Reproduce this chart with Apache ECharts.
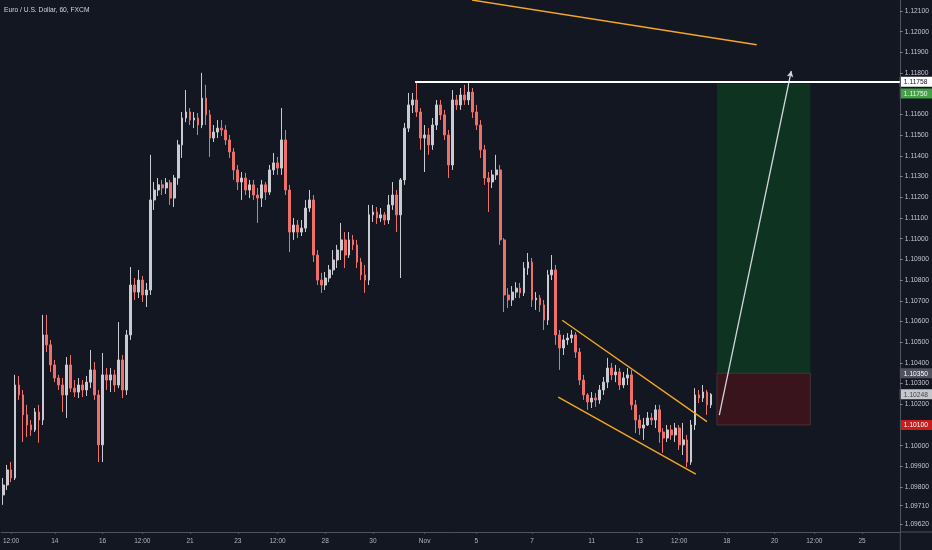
<!DOCTYPE html>
<html><head><meta charset="utf-8">
<script src="https://cdn.jsdelivr.net/npm/echarts@6/dist/echarts.min.js"></script>
<style>html,body{margin:0;padding:0;background:#131722;}#c{width:932px;height:550px;}</style>
</head><body><div id="c"></div>
<script>
// ---- data (EURUSD hourly, one candle per ~4h of screen) ----
const opens = [1.09762,1.09810,1.09883,1.09844,1.10293,1.10245,1.10149,1.10100,1.10076,1.10163,
1.10124,1.10535,1.10487,1.10390,1.10327,1.10293,1.10245,1.10390,1.10278,1.10259,
1.10293,1.10269,1.10307,1.10366,1.10245,1.10004,1.10342,1.10317,1.10342,1.10293,
1.10414,1.10269,1.10535,1.10776,1.10742,1.10800,1.10728,1.10752,1.11187,1.11235,
1.11260,1.11245,1.11270,1.11196,1.11293,1.11453,1.11583,1.11612,1.11573,1.11583,
1.11549,1.11679,1.11598,1.11486,1.11515,1.11534,1.11525,1.11477,1.11419,1.11332,
1.11274,1.11293,1.11235,1.11260,1.11211,1.11196,1.11260,1.11225,1.11332,1.11366,
1.11341,1.11477,1.11235,1.11032,1.11066,1.11032,1.11051,1.11148,1.11187,1.10921,
1.10800,1.10776,1.10810,1.10849,1.10897,1.10945,1.10994,1.10921,1.10994,1.10970,
1.10887,1.10825,1.10800,1.11115,1.11129,1.11100,1.11115,1.11090,1.11163,1.11211,
1.11115,1.11284,1.11534,1.11646,1.11670,1.11612,1.11486,1.11501,1.11453,1.11549,
1.11646,1.11598,1.11501,1.11356,1.11670,1.11646,1.11694,1.11670,1.11708,1.11612,
1.11549,1.11429,1.11293,1.11274,1.11308,1.11332,1.10994,1.10728,1.10704,1.10742,
1.10761,1.10738,1.10858,1.10887,1.10704,1.10713,1.10680,1.10607,1.10825,1.10849,
1.10535,1.10472,1.10511,1.10520,1.10535,1.10452,1.10317,1.10245,1.10211,1.10230,
1.10221,1.10269,1.10307,1.10375,1.10342,1.10356,1.10293,1.10327,1.10342,1.10197,
1.10124,1.10085,1.10100,1.10134,1.10124,1.10173,1.10066,1.10037,1.10076,1.10052,
1.10085,1.10004,1.10028,1.09921,1.10100,1.10245,1.10230,1.10259,1.10197];
const closes = [1.09810,1.09883,1.09844,1.10293,1.10245,1.10149,1.10100,1.10076,1.10163,1.10124,
1.10535,1.10487,1.10390,1.10327,1.10293,1.10245,1.10390,1.10278,1.10259,1.10293,
1.10269,1.10307,1.10366,1.10245,1.10004,1.10342,1.10317,1.10342,1.10293,1.10414,
1.10269,1.10535,1.10776,1.10742,1.10800,1.10728,1.10752,1.11187,1.11235,1.11260,
1.11245,1.11270,1.11196,1.11293,1.11453,1.11583,1.11612,1.11573,1.11583,1.11549,
1.11679,1.11598,1.11486,1.11515,1.11534,1.11525,1.11477,1.11419,1.11332,1.11274,
1.11293,1.11235,1.11260,1.11211,1.11196,1.11260,1.11225,1.11332,1.11366,1.11341,
1.11477,1.11235,1.11032,1.11066,1.11032,1.11051,1.11148,1.11187,1.10921,1.10800,
1.10776,1.10810,1.10849,1.10897,1.10945,1.10994,1.10921,1.10994,1.10970,1.10887,
1.10825,1.10800,1.11115,1.11129,1.11100,1.11115,1.11090,1.11163,1.11211,1.11115,
1.11284,1.11534,1.11646,1.11670,1.11612,1.11486,1.11501,1.11453,1.11549,1.11646,
1.11598,1.11501,1.11356,1.11670,1.11646,1.11694,1.11670,1.11708,1.11612,1.11549,
1.11429,1.11293,1.11274,1.11308,1.11332,1.10994,1.10728,1.10704,1.10742,1.10761,
1.10738,1.10858,1.10887,1.10704,1.10713,1.10680,1.10607,1.10825,1.10849,1.10535,
1.10472,1.10511,1.10520,1.10535,1.10452,1.10317,1.10245,1.10211,1.10230,1.10221,
1.10269,1.10307,1.10375,1.10342,1.10356,1.10293,1.10327,1.10342,1.10197,1.10124,
1.10085,1.10100,1.10134,1.10124,1.10173,1.10066,1.10037,1.10076,1.10052,1.10085,
1.10004,1.10028,1.09921,1.10100,1.10245,1.10230,1.10259,1.10197,1.10248];
const lows = [1.09714,1.09786,1.09824,1.09834,1.10221,1.10018,1.10042,1.10047,1.10066,1.10014,
1.10100,1.10452,1.10356,1.10307,1.10269,1.10163,1.10134,1.10259,1.10235,1.10230,
1.10235,1.10240,1.10278,1.10221,1.09921,1.09921,1.10269,1.10259,1.10259,1.10278,
1.10230,1.10245,1.10511,1.10704,1.10713,1.10694,1.10670,1.10728,1.11139,1.11206,
1.11211,1.11216,1.11163,1.11153,1.11260,1.11390,1.11563,1.11549,1.11534,1.11501,
1.11534,1.11549,1.11395,1.11467,1.11486,1.11496,1.11453,1.11390,1.11284,1.11235,
1.11187,1.11211,1.11196,1.11187,1.11076,1.11153,1.11187,1.11211,1.11308,1.11308,
1.11308,1.11211,1.10935,1.10994,1.11003,1.11013,1.11032,1.11129,1.10887,1.10776,
1.10738,1.10752,1.10790,1.10825,1.10858,1.10897,1.10858,1.10907,1.10945,1.10858,
1.10800,1.10738,1.10776,1.11081,1.11071,1.11081,1.11066,1.11071,1.11139,1.11032,
1.10810,1.11260,1.11515,1.11607,1.11588,1.11429,1.11322,1.11405,1.11429,1.11525,
1.11573,1.11477,1.11293,1.11332,1.11622,1.11622,1.11646,1.11646,1.11583,1.11525,
1.11390,1.11260,1.11129,1.11245,1.11284,1.10970,1.10646,1.10665,1.10675,1.10713,
1.10713,1.10723,1.10825,1.10670,1.10656,1.10646,1.10559,1.10583,1.10800,1.10487,
1.10366,1.10438,1.10487,1.10496,1.10424,1.10293,1.10221,1.10173,1.10182,1.10187,
1.10202,1.10245,1.10278,1.10317,1.10307,1.10269,1.10278,1.10293,1.10173,1.10061,
1.10052,1.10028,1.10095,1.10100,1.10085,1.10014,1.09965,1.10018,1.10028,1.10018,
1.09979,1.09955,1.09897,1.09907,1.10076,1.10206,1.10211,1.10149,1.10182];
const highs = [1.09844,1.09907,1.09921,1.10342,1.10337,1.10269,1.10197,1.10124,1.10182,1.10197,
1.10632,1.10632,1.10511,1.10414,1.10342,1.10327,1.10428,1.10438,1.10317,1.10327,
1.10317,1.10337,1.10462,1.10404,1.10269,1.10448,1.10375,1.10375,1.10366,1.10597,
1.10438,1.10559,1.10863,1.10810,1.10849,1.10820,1.10786,1.11405,1.11274,1.11293,
1.11284,1.11293,1.11284,1.11308,1.11477,1.11612,1.11718,1.11631,1.11612,1.11607,
1.11801,1.11743,1.11622,1.11549,1.11573,1.11573,1.11549,1.11501,1.11438,1.11356,
1.11322,1.11318,1.11284,1.11284,1.11245,1.11284,1.11274,1.11356,1.11414,1.11395,
1.11631,1.11525,1.11260,1.11100,1.11090,1.11090,1.11187,1.11235,1.11211,1.10945,
1.10835,1.10839,1.10873,1.10945,1.10970,1.11076,1.11032,1.11032,1.11018,1.10994,
1.10907,1.10873,1.11163,1.11163,1.11153,1.11148,1.11129,1.11211,1.11274,1.11235,
1.11293,1.11559,1.11704,1.11704,1.11757,1.11631,1.11549,1.11534,1.11583,1.11670,
1.11670,1.11622,1.11525,1.11718,1.11694,1.11728,1.11743,1.11752,1.11728,1.11646,
1.11573,1.11453,1.11322,1.11332,1.11405,1.11356,1.11003,1.10761,1.10771,1.10790,
1.10786,1.10887,1.10931,1.10907,1.10742,1.10728,1.10704,1.10849,1.10921,1.10873,
1.10559,1.10535,1.10544,1.10559,1.10549,1.10472,1.10342,1.10254,1.10259,1.10254,
1.10293,1.10332,1.10424,1.10400,1.10390,1.10375,1.10356,1.10375,1.10366,1.10221,
1.10149,1.10134,1.10163,1.10158,1.10197,1.10197,1.10085,1.10100,1.10100,1.10110,
1.10100,1.10110,1.10052,1.10124,1.10278,1.10269,1.10293,1.10269,1.10254];

// axis ticks / labels
const slotCount = 226;                     // bars incl. empty future space
const xLabelIdx  = [2,13,25,35,47,59,69,81,93,106,119,133,148,160,170,182,194,204,216];
const xLabelText = ['12:00','14','16','12:00','21','23','12:00','28','30','Nov','5','7','11','13','12:00','18','20','12:00','25'];
const yTickValues = [1.121,1.120,1.119,1.118,1.116,1.115,1.114,1.113,1.112,1.111,1.110,1.109,1.108,1.107,1.106,1.105,1.104,1.103,1.102,1.100,1.099,1.098,1.0971,1.0962];
const yMin = 1.09583, yMax = 1.12153;

// drawings (bar-index, price)
const resistancePrice = 1.11758, resistanceStart = 103.6;
const topTrendU = [117.9, 189.5], topTrendP = [1.12153, 1.11937];
const chanUpperU = [140.6, 177.0], chanUpperP = [1.10606, 1.10116];
const chanLowerU = [139.6, 174.2], chanLowerP = [1.10235, 1.09863];
const arrowU = [180.1, 198.2], arrowP = [1.10148, 1.1181];
const boxU = [179.5, 203.0];
const targetPrice = 1.1175, entryPrice = 1.1035, stopPrice = 1.101, lastPrice = 1.10248;

const chart = echarts.init(document.getElementById('c'));
const cats = Array.from({length: slotCount}, (_, i) => String(i));
const labelMap = {};
xLabelIdx.forEach((k, j) => { labelMap[k] = xLabelText[j]; });
const candles = opens.map((o, i) => [o, closes[i], lows[i], highs[i]]);
const FONT = "'Liberation Sans', Arial, sans-serif";
const orange = {color: '#f5a623', width: 1.4, type: 'solid'};
const seg = (u, p, style) => [{coord: [u[0], p[0]], lineStyle: style}, {coord: [u[1], p[1]]}];

chart.setOption({
  backgroundColor: '#131722',
  animation: false,
  textStyle: {fontFamily: FONT},
  title: {text: 'Euro / U.S. Dollar, 60, FXCM', left: 4, top: 7, padding: 0,
    textStyle: {fontSize: 6.7, color: '#d1d4dc', fontWeight: 'normal', fontFamily: FONT}},
  grid: {left: 0, right: 29, top: 0, bottom: 18},
  xAxis: [{
    type: 'category', data: cats, boundaryGap: true,
    axisLine: {onZero: false, lineStyle: {color: '#50535e', width: 1}},
    axisTick: {show: true, alignWithLabel: true, length: 2, interval: (i) => labelMap[i] !== undefined,
      lineStyle: {color: '#50535e'}},
    axisLabel: {interval: 0, margin: 6, fontSize: 6.5, color: '#b2b5be',
      formatter: (v, i) => labelMap[i] || ''},
    splitLine: {show: false}
  }, {
    type: 'value', min: -0.5, max: slotCount - 0.5, show: false,
    axisLine: {onZero: false}
  }],
  yAxis: [{
    type: 'value', position: 'right', min: yMin, max: yMax, scale: true,
    axisLine: {show: true, onZero: false, lineStyle: {color: '#50535e'}},
    axisTick: {show: true, length: 3, customValues: yTickValues, lineStyle: {color: '#787b86'}},
    axisLabel: {customValues: yTickValues, margin: 5, fontSize: 6.7, color: '#c3c6ce',
      formatter: (v) => v.toFixed(5)},
    splitLine: {show: false}
  }],
  series: [{
    type: 'candlestick', name: 'EURUSD', xAxisIndex: 0, yAxisIndex: 0, data: candles,
    barWidth: '58%',
    itemStyle: {color: '#c9cbd1', color0: '#ef6f6a', borderColor: '#c9cbd1', borderColor0: '#ef6f6a', borderWidth: 1}
  }, {
    type: 'line', name: 'position', xAxisIndex: 1, yAxisIndex: 0, data: [], silent: true,
    markArea: {silent: true, data: [
      [{coord: [boxU[0], targetPrice], itemStyle: {color: '#0e3320'}}, {coord: [boxU[1], entryPrice]}],
      [{coord: [boxU[0], entryPrice], itemStyle: {color: '#3a141c', borderColor: '#5b4646', borderWidth: 0.6}}, {coord: [boxU[1], stopPrice]}]
    ]}
  }, {
    type: 'line', name: 'drawings', xAxisIndex: 1, yAxisIndex: 0, data: [], silent: true,
    markLine: {silent: true, symbol: 'none', label: {show: false}, data: [
      seg(topTrendU, topTrendP, orange),
      seg(chanUpperU, chanUpperP, orange),
      seg(chanLowerU, chanLowerP, orange)
    ]}
  }, {
    type: 'line', name: 'arrow', xAxisIndex: 1, yAxisIndex: 0, data: [], silent: true,
    markLine: {silent: true, symbol: ['none', 'arrow'], symbolSize: [5, 6], label: {show: false},
      lineStyle: {color: '#d1d4dc', width: 1.3, type: 'solid'},
      data: [seg(arrowU, arrowP)]}
  }, {
    type: 'line', name: 'resistance', xAxisIndex: 1, yAxisIndex: 0, data: [], silent: true,
    markLine: {silent: true, symbol: 'none', label: {show: false},
      lineStyle: {color: '#ffffff', width: 2, type: 'solid'},
      data: [[{coord: [resistanceStart, resistancePrice]}, {coord: [slotCount - 0.5, resistancePrice]}]]}
  }]
});

// price tags on the right scale, placed from their values through the axis
const tagDefs = [
  {v: resistancePrice, bg: '#ffffff', fg: '#131722', shift: 0},
  {v: targetPrice, bg: '#43a047', fg: '#eaf6ea', shift: 1},
  {v: entryPrice, bg: '#50535e', fg: '#ffffff', shift: 0},
  {v: lastPrice, bg: '#c5c7cc', fg: '#434651', shift: 0},
  {v: stopPrice, bg: '#c41e1e', fg: '#ffffff', shift: 0}
];
const axisX = chart.convertToPixel({xAxisIndex: 1}, slotCount - 0.5);
const tagH = 10;
const graphics = tagDefs.map(t => {
  const cy = chart.convertToPixel({yAxisIndex: 0}, t.v) + t.shift * tagH;
  return {
    type: 'group', x: axisX, y: cy - tagH / 2, silent: true,
    children: [
      {type: 'rect', shape: {x: 0, y: 0, width: chart.getWidth() - axisX, height: tagH}, style: {fill: t.bg}},
      {type: 'text', x: 4, y: tagH / 2 + 0.5, style: {text: t.v.toFixed(5), fill: t.fg, font: '6.7px ' + FONT, textVerticalAlign: 'middle', verticalAlign: 'middle'}}
    ]
  };
});
// extend the time-axis line across the price scale, as on the original
const axisY = chart.convertToPixel({yAxisIndex: 0}, yMin);
graphics.push({type: 'line', silent: true, shape: {x1: axisX, y1: axisY, x2: chart.getWidth(), y2: axisY}, style: {stroke: '#50535e', lineWidth: 1}});
graphics.push({type: 'line', silent: true, shape: {x1: axisX + 0.5, y1: axisY, x2: axisX + 0.5, y2: chart.getHeight()}, style: {stroke: '#50535e', lineWidth: 1}});
chart.setOption({graphic: graphics});
</script>
</body></html>
